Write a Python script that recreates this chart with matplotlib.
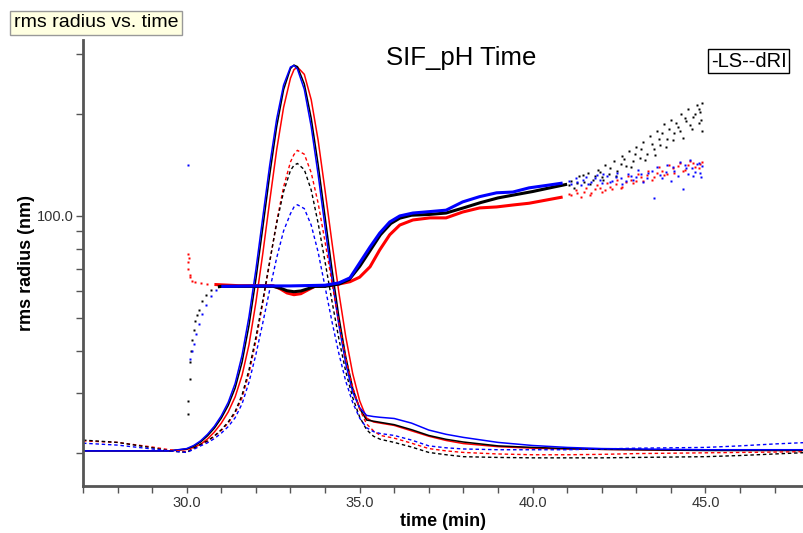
import numpy as np
import matplotlib
matplotlib.use("Agg")
import matplotlib.pyplot as plt
from matplotlib.ticker import FixedLocator, MultipleLocator, FormatStrFormatter

plt.rcParams['font.family'] = ['Liberation Sans', 'DejaVu Sans']

# temps commun pour les signaux LS / dRI (min)
t_sig = [27, 28, 29, 29.5, 30.0, 30.2, 30.4, 30.6, 30.8, 31.0, 31.2, 31.4, 31.6, 31.8, 32.0, 32.2,
         32.4, 32.6, 32.8, 33.0, 33.1, 33.2, 33.4, 33.6, 33.8, 34.0, 34.2, 34.4, 34.6, 34.8, 35.0, 35.2,
         35.4, 35.6, 36.0, 36.5, 37.0, 37.5, 38.0, 39.0, 40.0, 41.0, 42.0, 43.0, 44.0, 45.0, 46.0,
         47.0, 48.0]

# LS (trait plein), normalisé au pic
ls_black = [0, 0, 0, 0, 0.005, 0.012, 0.023, 0.039, 0.059, 0.085, 0.118, 0.163, 0.23, 0.325, 0.445, 0.579,
            0.716, 0.84, 0.936, 0.991, 1.0, 0.996, 0.951, 0.862, 0.742, 0.607, 0.471, 0.347, 0.243, 0.162, 0.11, 0.08,
            0.077, 0.074, 0.068, 0.055, 0.04, 0.03, 0.023, 0.013, 0.009, 0.006, 0.004, 0.003, 0.002, 0.001, 0.001,
            0.001, 0.001]
ls_blue = [0, 0, 0, 0, 0.006, 0.014, 0.026, 0.043, 0.064, 0.091, 0.126, 0.175, 0.248, 0.348, 0.47, 0.606,
           0.741, 0.86, 0.948, 0.995, 0.999, 0.99, 0.937, 0.84, 0.716, 0.58, 0.446, 0.326, 0.226, 0.152, 0.112, 0.092,
           0.089, 0.087, 0.084, 0.072, 0.054, 0.043, 0.035, 0.022, 0.014, 0.009, 0.006, 0.005, 0.004, 0.003, 0.003,
           0.003, 0.003]
ls_red = [0, 0, 0, 0, 0.004, 0.009, 0.017, 0.031, 0.049, 0.072, 0.101, 0.14, 0.196, 0.275, 0.385, 0.512,
          0.648, 0.78, 0.89, 0.966, 0.988, 0.995, 0.976, 0.91, 0.805, 0.675, 0.54, 0.41, 0.295, 0.2, 0.13, 0.085,
          0.075, 0.072, 0.066, 0.052, 0.038, 0.027, 0.019, 0.011, 0.007, 0.005, 0.004, 0.003, 0.002, 0.002, 0.002,
          0.002, 0.002]

# dRI (pointillés)
dri_red = [0.026, 0.022, 0.01, 0.003, -0.002, 0.006, 0.016, 0.025, 0.038, 0.053, 0.072, 0.098, 0.138, 0.201, 0.285, 0.383,
           0.489, 0.594, 0.684, 0.749, 0.768, 0.779, 0.769, 0.721, 0.642, 0.542, 0.435, 0.332, 0.24, 0.165, 0.108, 0.07,
           0.052, 0.04, 0.033, 0.02, 0.006, 0.0, -0.004, -0.008, -0.01, -0.01, -0.009, -0.007, -0.006, -0.005, -0.004,
           -0.003, -0.002]
dri_black = [0.028, 0.022, 0.008, 0.0, -0.004, 0.007, 0.017, 0.026, 0.039, 0.055, 0.075, 0.102, 0.145, 0.21, 0.295, 0.39,
             0.492, 0.59, 0.672, 0.727, 0.74, 0.745, 0.729, 0.676, 0.59, 0.49, 0.388, 0.29, 0.205, 0.138, 0.088, 0.055,
             0.038, 0.03, 0.022, 0.01, -0.004, -0.01, -0.015, -0.017, -0.018, -0.018, -0.018, -0.017, -0.016, -0.015, -0.012,
             -0.008, -0.004]
dri_blue = [0.02, 0.015, 0.005, 0.0, -0.004, 0.004, 0.013, 0.021, 0.032, 0.046, 0.063, 0.086, 0.122, 0.178, 0.25, 0.332,
            0.418, 0.5, 0.57, 0.615, 0.632, 0.638, 0.628, 0.585, 0.515, 0.425, 0.335, 0.252, 0.18, 0.125, 0.085, 0.06,
            0.05, 0.045, 0.04, 0.028, 0.013, 0.008, 0.005, 0.003, 0.003, 0.003, 0.005, 0.007, 0.008, 0.009, 0.013,
            0.018, 0.022]

# rms radius (nm) : bande continue
band_black_t = [30.9, 31.0, 32.0, 32.5, 32.7, 32.9, 33.1, 33.3, 33.5, 33.7, 34.0, 34.4, 34.7, 35.0,
                35.3, 35.6, 35.9, 36.16, 36.5, 37.0, 37.5, 38.0, 38.5, 39.0, 39.5, 40.0, 40.5, 41.0]
band_black_r = [61.8, 62, 62, 62, 61.3, 60.2, 59.8, 60.1, 61.0, 62, 62, 63, 65, 71,
                79, 88, 95, 98.5, 100.5, 101, 102, 105.6, 109.5, 113, 115.5, 118, 121, 124]
band_blue_t = [31.0, 32.0, 33.0, 34.0, 34.4, 34.72, 35.0, 35.3, 35.58, 35.87, 36.16, 36.54, 37.03,
               37.5, 37.98, 38.47, 38.96, 39.43, 39.9, 40.4, 40.87]
band_blue_r = [62, 62.2, 62.2, 62.5, 63.5, 65.7, 72.7, 81, 89, 96, 100, 102, 103,
               104, 110, 114, 117, 117.6, 121, 123, 125]
band_red_t = [30.8, 31.5, 32.5, 32.7, 32.9, 33.1, 33.3, 33.5, 33.7, 34.0, 34.4, 34.72, 35.0, 35.3,
              35.58, 35.87, 36.16, 36.54, 37.03, 37.5, 37.98, 38.47, 38.96, 39.43, 39.9, 40.4, 40.87]
band_red_r = [62.8, 62.3, 62.3, 61, 59.3, 58.6, 59, 60.5, 62, 62.3, 63, 64, 66, 70.8,
              79.4, 88, 94, 97.3, 98.7, 98.7, 102.7, 105.6, 106.3, 107.7, 109, 111.4, 113.7]

# points isolés (début et fin de l'élution)
pts_black_t = [30.05, 30.05, 30.08, 30.1, 30.12, 30.15, 30.2, 30.25, 30.3, 30.35, 30.45, 30.55, 30.7,
               41.1, 41.2, 41.35, 41.5, 41.6, 41.75, 41.9, 42.0, 42.1, 42.2, 42.35, 42.45, 42.6, 42.7,
               42.8, 42.9, 43.0, 43.1, 43.2, 43.3, 43.4, 43.5, 43.6, 43.7, 43.8, 43.9, 44.0, 44.1,
               44.2, 44.3, 44.35, 44.45, 44.5, 44.6, 44.65, 44.75, 44.8, 44.85, 44.9, 44.9,
               41.05, 41.3, 41.45, 41.65, 41.8, 41.95, 42.05, 42.25, 42.4, 42.55, 42.65, 42.85, 42.95,
               43.15, 43.25, 43.45, 43.55, 43.65, 43.75, 43.85, 43.95, 44.05, 44.15, 44.25, 44.4, 44.55,
               44.7, 44.8, 44.88]
pts_black_r = [26, 28.5, 33, 37, 40, 43, 46, 49, 51, 53, 56, 58.5, 60.5,
               127, 121, 131, 126, 134, 128, 137, 130, 141, 133, 145, 136, 150, 140,
               155, 145, 160, 148, 165, 152, 172, 158, 178, 162, 186, 168, 192, 175,
               183, 200, 170, 190, 207, 180, 196, 212, 188, 203, 215, 178,
               123, 125, 132, 124, 131, 135, 128, 138, 131, 142, 147, 139, 152,
               157, 146, 163, 151, 168, 175, 160, 181, 167, 188, 178, 195, 185,
               200, 206, 192]
pts_blue_t = [30.05, 30.1, 30.15, 30.2, 30.27, 30.35, 30.45, 30.55, 30.7, 30.85,
              41.1, 41.25, 41.4, 41.55, 41.7, 41.85, 42.0, 42.15, 42.3, 42.45, 42.6, 42.75, 42.9,
              43.05, 43.2, 43.35, 43.5, 43.6, 43.75, 43.9, 44.0, 44.1, 44.25, 44.35, 44.45, 44.55,
              44.65, 44.75, 44.85, 44.9,
              41.05, 41.3, 41.45, 41.6, 41.8, 41.95, 42.05, 42.25, 42.4, 42.55, 42.7, 42.85, 43.0,
              43.15, 43.3, 43.45, 43.7, 43.85, 44.05, 44.2, 44.4, 44.5, 44.6, 44.7, 44.8, 44.88]
pts_blue_r = [141, 38, 40, 42, 45, 48, 51.5, 54.5, 58, 60.5,
              124, 129, 123, 130, 126, 132, 125, 131, 127, 134, 124, 133, 128,
              137, 126, 134, 113, 139, 129, 141, 127, 136, 144, 120, 138, 146,
              131, 142, 134, 140,
              127, 126, 128, 124, 129, 128, 133, 126, 130, 129, 127, 131, 130,
              133, 129, 136, 132, 135, 139, 131, 141, 133, 138, 135, 143, 130]
pts_red_t = [30.03, 30.04, 30.05, 30.06, 30.08, 30.1, 30.15, 30.25, 30.4, 30.6,
             41.1, 41.25, 41.4, 41.55, 41.7, 41.85, 42.0, 42.15, 42.3, 42.45, 42.6, 42.75, 42.9,
             43.05, 43.2, 43.35, 43.5, 43.65, 43.8, 43.95, 44.1, 44.25, 44.4, 44.55, 44.7, 44.85,
             41.05, 41.3, 41.5, 41.65, 41.8, 41.95, 42.1, 42.25, 42.4, 42.55, 42.7, 42.85, 43.0,
             43.15, 43.3, 43.45, 43.6, 43.75, 43.9, 44.05, 44.2, 44.35, 44.5, 44.65, 44.8, 44.9]
pts_red_r = [77, 73, 70, 75, 67, 66, 64.5, 64, 63.5, 63,
             115, 119, 114, 121, 117, 123, 118, 125, 120, 128, 122, 131, 125,
             133, 127, 136, 130, 139, 132, 141, 134, 143, 137, 145, 139, 142,
             116, 117, 118, 115, 120, 121, 119, 122, 124, 121, 126, 128, 127,
             130, 132, 128, 134, 136, 133, 138, 140, 136, 141, 143, 138, 144]

fig = plt.figure(figsize=(8.04, 5.33), dpi=100)
ax = fig.add_axes([83 / 804, 47 / 533, 721 / 804, 446 / 533])
ax2 = ax.twinx()
ax.set_zorder(ax2.get_zorder() + 1)
ax.patch.set_visible(False)

# signaux LS et dRI (axe caché)
for y, c in [(ls_red, 'red'), (ls_black, 'black'), (ls_blue, 'blue')]:
    ax2.plot(t_sig, y, color=c, lw=1.1)
for y, c in [(dri_red, 'red'), (dri_black, 'black'), (dri_blue, 'blue')]:
    ax2.plot(t_sig, y, color=c, lw=1.0, ls=(0, (2.5, 2)))
ax2.set_ylim(-0.091, 1.065)
ax2.axis('off')

# rms radius
for bt, br, pt, pr, c in [(band_red_t, band_red_r, pts_red_t, pts_red_r, 'red'),
                          (band_black_t, band_black_r, pts_black_t, pts_black_r, 'black'),
                          (band_blue_t, band_blue_r, pts_blue_t, pts_blue_r, 'blue')]:
    ax.plot(bt, br, color=c, lw=2.2, solid_capstyle='butt')
    ax.plot(pt, pr, ls='none', marker='s', ms=1.9, color=c, mec='none')

ax.set_yscale('log')
ax.set_ylim(16, 330)
ax.set_xlim(27, 47.85)

yt = [20, 30, 40, 50, 60, 70, 80, 90, 100, 200, 300]
ax.yaxis.set_major_locator(FixedLocator(yt))
ax.yaxis.set_minor_locator(FixedLocator([]))
ax.set_yticklabels(['100.0' if v == 100 else '' for v in yt])
ax.xaxis.set_major_locator(MultipleLocator(5))
ax.xaxis.set_minor_locator(MultipleLocator(1))
ax.xaxis.set_major_formatter(FormatStrFormatter('%.1f'))

for s in ['top', 'right']:
    ax.spines[s].set_visible(False)
for s in ['left', 'bottom']:
    ax.spines[s].set_color('#555555')
    ax.spines[s].set_linewidth(2)
ax.tick_params(which='both', length=5, width=1, color='#555555', labelcolor='#333333',
               labelsize=10.5, pad=2)

ax.set_xlabel('time (min)', fontsize=13, fontweight='bold', labelpad=2)
ax.set_ylabel('rms radius (nm)', fontsize=13, fontweight='bold', labelpad=1)

fig.text(0.574, 0.891, 'SIF_pH Time', ha='center', va='center', fontsize=18.5)
fig.text(0.0174, 0.957, 'rms radius vs. time', ha='left', va='center', fontsize=14,
         bbox=dict(boxstyle='square,pad=0.2', fc='#ffffe1', ec='#999999', lw=1))
fig.text(0.884, 0.885, '-LS--dRI', ha='left', va='center', fontsize=14.5,
         bbox=dict(boxstyle='square,pad=0.12', fc='white', ec='black', lw=1))

fig.savefig('out.png', dpi=100)
